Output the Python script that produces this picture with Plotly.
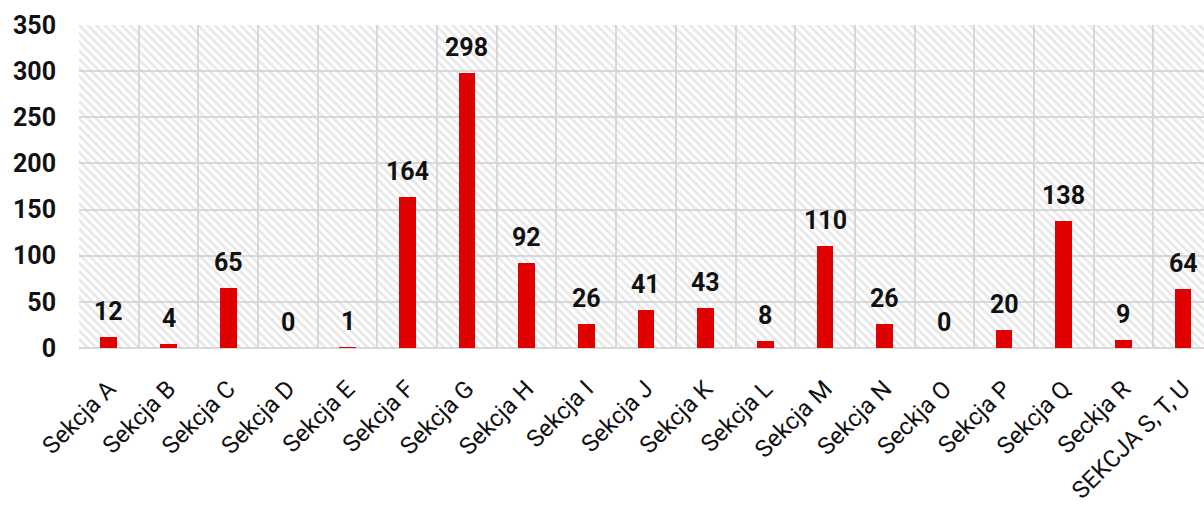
import plotly.graph_objects as go

# Category labels and counts per section
categories = [
    "Sekcja A", "Sekcja B", "Sekcja C", "Sekcja D", "Sekcja E", "Sekcja F",
    "Sekcja G", "Sekcja H", "Sekcja I", "Sekcja J", "Sekcja K", "Sekcja L",
    "Sekcja M", "Sekcja N", "Seckja O", "Sekcja P", "Sekcja Q", "Seckja R",
    "SEKCJA S, T, U",
]
values = [12, 4, 65, 0, 1, 164, 298, 92, 26, 41, 43, 8, 110, 26, 0, 20, 138, 9, 64]

y_ticks = [0, 50, 100, 150, 200, 250, 300, 350]
Y_MAX = 350

GRID = "#d9d9d9"
RED = "#e00000"

fig = go.Figure()

# Hatched backdrop filling every category column
fig.add_trace(go.Bar(
    x=categories,
    y=[Y_MAX] * len(categories),
    width=1,
    marker=dict(
        color="rgba(0,0,0,0)",
        line=dict(width=0),
        pattern=dict(shape="\\", fgcolor="#d0d0d0", bgcolor="rgba(0,0,0,0)",
                     size=6, solidity=0.42),
    ),
    hoverinfo="skip",
    showlegend=False,
))

# Main data bars
fig.add_trace(go.Bar(
    x=categories,
    y=values,
    width=0.28,
    marker=dict(color=RED, line=dict(width=0)),
    showlegend=False,
))

# Value labels above each bar
for c, v in zip(categories, values):
    fig.add_annotation(
        x=c, y=v, text=str(v), showarrow=False,
        yanchor="bottom", yshift=9,
        font=dict(family="Roboto", size=25, color="#111111", weight="bold"),
    )

fig.update_layout(
    width=1204, height=506,
    margin=dict(l=79, r=0, t=25, b=158),
    paper_bgcolor="white",
    plot_bgcolor="white",
    barmode="overlay",
    bargap=0,
)

fig.update_xaxes(
    type="category",
    range=[-0.5, 18.35],
    tickson="boundaries",
    showgrid=True, gridcolor=GRID, gridwidth=2,
    ticks="", tickangle=-45,
    ticklabelstandoff=21,
    tickfont=dict(family="Roboto", size=24, color="#111111"),
    showline=False,
    zeroline=False,
    automargin=False,
)

fig.update_yaxes(
    range=[0, Y_MAX],
    tickvals=y_ticks,
    showgrid=True, gridcolor=GRID, gridwidth=2,
    zeroline=True, zerolinecolor=GRID, zerolinewidth=2,
    ticks="",
    ticklabelstandoff=22,
    tickfont=dict(family="Roboto", size=25, color="#111111", weight="bold"),
    showline=False,
    automargin=False,
)

fig.write_html("out.html")
